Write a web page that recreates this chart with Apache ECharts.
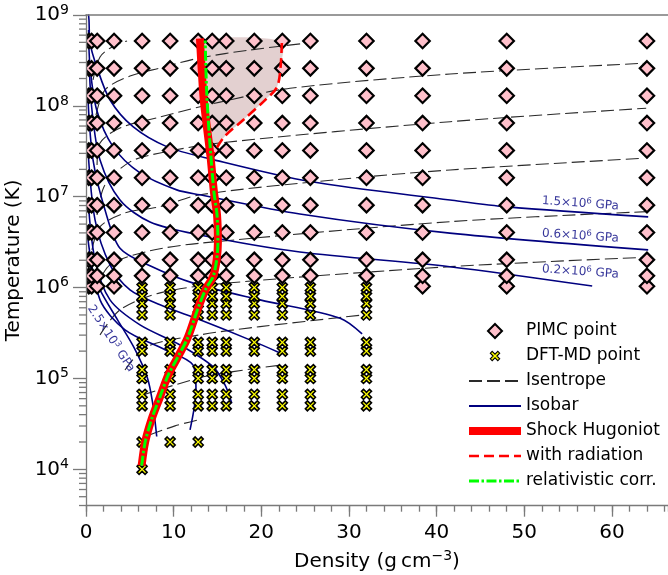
<!DOCTYPE html>
<html><head><meta charset="utf-8">
<script src="https://cdn.jsdelivr.net/npm/echarts@6/dist/echarts.min.js"></script>
<style>html,body{margin:0;padding:0;background:#fff;}#c{width:668px;height:575px;}</style>
</head><body><div id="c"></div>
<script>
const FONT = 'DejaVu Sans';

// ---- data ----
const xTicks = [0, 10, 20, 30, 40, 50, 60];
const yMajorTicks = [1e4, 1e5, 1e6, 1e7, 1e8, 1e9];
const yMinorTicks = [4e3, 5e3, 6e3, 7e3, 8e3, 9e3,
  2e4, 3e4, 4e4, 5e4, 6e4, 7e4, 8e4, 9e4,
  2e5, 3e5, 4e5, 5e5, 6e5, 7e5, 8e5, 9e5,
  2e6, 3e6, 4e6, 5e6, 6e6, 7e6, 8e6, 9e6,
  2e7, 3e7, 4e7, 5e7, 6e7, 7e7, 8e7, 9e7,
  2e8, 3e8, 4e8, 5e8, 6e8, 7e8, 8e8, 9e8];

const pimcDensities = [0.32, 0.64, 1.28, 3.2, 6.4, 9.6, 12.8, 14.4, 16.0, 19.2, 22.4, 25.6, 32.0, 38.4, 48.0, 64.0];
const pimcTemps = [1.0347e6, 1.347e6, 2.0206e6, 4.0412e6, 8.0823e6, 1.6165e7, 3.2329e7, 6.4659e7, 1.2932e8, 2.5863e8, 5.1727e8];
const pimcLowestRowDensities = [0.32, 0.64, 1.28, 3.2, 38.4, 48.0, 64.0];

const dftDensities = [6.4, 9.6, 12.8, 14.4, 16.0, 19.2, 22.4, 25.6, 32.0];
const dftTemps = [1e4, 2e4, 5e4, 6.7e4, 1e5, 1.25e5, 2e5, 2.5e5, 5e5, 6.67e5, 8e5, 1e6];
const dftColumnsPerTemp = [1, 3, 9, 9, 9, 9, 9, 9, 9, 9, 9, 9];

const hugoniotRho = [6.35, 6.75, 7.5, 8.45, 9.4, 10.5, 11.6, 12.8, 13.7, 14.5, 14.9, 15.05, 14.95, 14.6, 14.2, 13.45, 13.2, 13.0];
const hugoniotT   = [1.1e4, 2.0e4, 3.6e4, 6.3e4, 1.1e5, 1.74e5, 2.8e5, 6.0e5, 9.8e5, 1.32e6, 2.0e6, 3.16e6, 6.3e6, 1.12e7, 2.8e7, 1.12e8, 2.5e8, 5.5e8];

const radiationRho = [14.1, 15.7, 18.0, 20.4, 21.8, 22.2, 22.35];
const radiationT   = [2.5e7, 4.47e7, 7.08e7, 1.15e8, 1.62e8, 2.69e8, 5.13e8];

const relativisticRho = [6.35, 6.75, 7.5, 8.45, 9.4, 10.5, 11.6, 12.8, 13.7, 14.5, 14.9, 15.05, 14.95, 14.6, 14.25, 13.95, 13.75, 13.65, 13.6];
const relativisticT   = [1.1e4, 2.0e4, 3.6e4, 6.3e4, 1.1e5, 1.74e5, 2.8e5, 6.0e5, 9.8e5, 1.32e6, 2.0e6, 3.16e6, 6.3e6, 1.12e7, 2.8e7, 7.0e7, 1.6e8, 3.2e8, 5.25e8];

const isentrope0 = [[0.8, 1.93e8], [1.6, 3.45e8], [2.97, 4.45e8], [4.68, 5.18e8]];
const isentrope1 = [[1.14, 7.9e7], [2.17, 1.5e8], [5.02, 2.13e8], [8.45, 2.61e8], [13.0, 3.37e8], [18.7, 4.12e8], [25.56, 4.95e8]];
const isentrope2 = [[1.26, 2.24e7], [1.6, 3.9e7], [3.88, 5.71e7], [8.45, 7.55e7], [15.29, 1.1e8], [23.28, 1.56e8], [41.54, 2.24e8], [63.57, 2.94e8]];
const isentrope3 = [[1.26, 6.3e6], [2.17, 1.35e7], [5.02, 2.42e7], [8.45, 3.03e7], [15.29, 3.91e7], [41.54, 6.7e7], [63.91, 9.42e7]];
const isentrope4 = [[0.68, 2.6e6], [1.6, 4.69e6], [4.45, 6.64e6], [8.45, 7.78e6], [13.0, 1.05e7], [28.19, 1.53e7], [41.54, 1.97e7], [63.57, 2.65e7]];
const isentrope5 = [[1.03, 9.44e5], [2.74, 1.78e6], [7.3, 2.54e6], [13.0, 3.08e6], [41.54, 5.32e6], [63.99, 6.85e6]];
const isentrope6 = [[1.6, 3.02e5], [3.88, 5.69e5], [8.45, 8.75e5], [16.06, 1.12e6], [41.54, 1.7e6], [63.99, 2.16e6]];
const isentrope7 = [[4.45, 1.24e5], [6.93, 2.24e5], [13.0, 3.02e5], [19.86, 3.72e5], [31.65, 5.01e5]];
const isentrope8 = [[6.5, 6.6e4], [13.0, 1.02e5], [16.78, 1.19e5], [22.37, 1.41e5]];
const isentrope9 = [[7.3, 2.4e4], [10.16, 3.01e4], [12.82, 3.51e4]];
const isentropes = [isentrope0, isentrope1, isentrope2, isentrope3, isentrope4, isentrope5, isentrope6, isentrope7, isentrope8, isentrope9];

const isobar1 = [[0.2, 1.26e9], [0.34, 8.8e8], [0.46, 4.92e8], [1.22, 2.7e8], [2.74, 1.16e8], [5.36, 5.9e7], [9.21, 3.56e7], [14.15, 2.61e7], [25.56, 1.47e7], [41.54, 9.2e6], [48.05, 7.73e6], [64.14, 6.0e6]];
const isobar2 = [[0.29, 6.84e8], [0.46, 2.7e8], [1.22, 9.0e7], [3.08, 3.56e7], [6.16, 1.83e7], [10.35, 1.19e7], [13.0, 1.05e7], [24.4, 6.46e6], [41.5, 3.98e6], [64.14, 2.6e6]];
const isobar3 = [[0.34, 3.2e8], [0.68, 9.0e7], [1.6, 2.54e7], [3.88, 9.2e6], [7.3, 5.28e6], [13.0, 3.8e6], [24.4, 2.47e6], [41.5, 1.7e6], [57.75, 1.04e6]];
const isobar4 = [[0.23, 1.16e8], [0.8, 2.54e7], [2.17, 7.16e6], [3.88, 2.71e6], [7.3, 1.74e6], [12.25, 1.12e6], [19.86, 7.33e5], [28.99, 4.6e5], [31.5, 3.09e5]];
const isobar5 = [[0.23, 3.27e7], [1.03, 5.56e6], [2.74, 1.78e6], [5.02, 9.44e5], [8.45, 6.46e5], [13.0, 4.42e5], [18.7, 2.66e5], [22.14, 1.91e5]];
const isobar6 = [[0.23, 9.2e6], [1.03, 2.02e6], [2.74, 7.33e5], [6.16, 3.89e5], [10.73, 2.34e5], [14.49, 1.35e5], [15.86, 8.5e4], [16.63, 5.35e4]];
const isobar7 = [[0.23, 3.35e6], [1.6, 7.33e5], [4.45, 3.43e5], [9.02, 2.07e5], [12.2, 1.41e5], [12.55, 7.5e4], [11.87, 2.72e4]];
const isobar8 = [[0.23, 2.02e6], [1.6, 9.44e5], [3.6, 4.42e5], [5.5, 2.17e5], [7.0, 1.02e5], [7.6, 5.4e4], [8.07, 2.3e4]];
const isobars = [isobar1, isobar2, isobar3, isobar4, isobar5, isobar6, isobar7, isobar8];

const isobarLabelText = [['1.5×10', '6', ' GPa'], ['0.6×10', '6', ' GPa'], ['0.2×10', '6', ' GPa'], ['2.5×10', '3', ' GPa']];
const isobarLabelAnchor = [[56.4, 8.4e6], [56.4, 3.7e6], [56.4, 1.49e6], [2.85, 2.75e5]];

// ---- build ----
const pimcData = [];
pimcTemps.forEach((t, i) => (i === 0 ? pimcLowestRowDensities : pimcDensities).forEach(r => pimcData.push([r, t])));
const dftData = [];
dftTemps.forEach((t, i) => dftDensities.slice(0, dftColumnsPerTemp[i]).forEach(r => dftData.push([r, t])));
const zip = (a, b) => a.map((v, i) => [v, b[i]]);

const YMIN = Math.pow(10, 3.6), YMAX = 1e9, XMAX = 66.4;
const axisGray = '#7a7a7a';
const NAVY = '#00007f';
const DIAMOND = 'path://M5,0 L10,5 L5,10 L0,5 Z';
const XMARK = 'path://M2,0 L5,3 L8,0 L10,2 L7,5 L10,8 L8,10 L5,7 L2,10 L0,8 L3,5 L0,2 Z';
const XMARK_LEGEND = 'path://M-2.5,-2.5 L-2.5,-2.5 M12.5,12.5 L12.5,12.5 M2,0 L5,3 L8,0 L10,2 L7,5 L10,8 L8,10 L5,7 L2,10 L0,8 L3,5 L0,2 Z';

const series = [];
series.push({
  type: 'custom', coordinateSystem: 'cartesian2d', z: 1, silent: true, clip: true,
  data: [[14, 1e8]],
  renderItem: (params, api) => {
    const pts = [];
    radiationRho.forEach((r, i) => pts.push(api.coord([r, radiationT[i]])));
    const top = radiationT[radiationT.length - 1];
    const hug = [];
    for (let i = 0; i < hugoniotRho.length; i++) if (hugoniotT[i] >= radiationT[0]) hug.push([hugoniotRho[i], Math.min(hugoniotT[i], top * 1.01)]);
    hug.reverse().forEach(p => pts.push(api.coord(p)));
    return { type: 'polygon', shape: { points: pts, smooth: 0.25 }, style: { fill: 'rgba(188,143,143,0.42)' } };
  }
});
isentropes.forEach(d => series.push({
  type: 'line', name: 'Isentrope', data: d, symbol: 'none', smooth: 0.3, z: 2, silent: true,
  lineStyle: { color: '#2a2a2a', width: 1.1, type: [13, 5] }, itemStyle: { color: '#2a2a2a' }
}));
isobars.forEach(d => series.push({
  type: 'line', name: 'Isobar', data: d, symbol: 'none', smooth: 0.3, z: 2, silent: true,
  lineStyle: { color: NAVY, width: 1.6 }, itemStyle: { color: NAVY }
}));
series.push({
  type: 'custom', name: 'PIMC point', coordinateSystem: 'cartesian2d', data: pimcData, z: 3, clip: true,
  encode: { x: 0, y: 1 },
  itemStyle: { color: '#ffc0cb', borderColor: '#000', borderWidth: 2.2 },
  renderItem: (params, api) => {
    const p = api.coord([api.value(0), api.value(1)]);
    const s = 7.2;
    return { type: 'polygon',
      shape: { points: [[p[0], p[1] - s], [p[0] + s, p[1]], [p[0], p[1] + s], [p[0] - s, p[1]]] },
      style: { fill: '#ffc0cb', stroke: '#000', lineWidth: 2.2 } };
  }
});
series.push({
  type: 'scatter', name: 'DFT-MD point', data: dftData, symbol: XMARK, symbolSize: 10, z: 4,
  itemStyle: { color: '#ffff00', borderColor: '#000', borderWidth: 1.6, opacity: 1 }
});
series.push({
  type: 'line', name: 'Shock Hugoniot', data: zip(hugoniotRho, hugoniotT), symbol: 'none', smooth: 0.3, z: 5,
  lineStyle: { color: '#ff0000', width: 8 }, itemStyle: { color: '#ff0000' }
});
series.push({
  type: 'line', name: 'with radiation', data: zip(radiationRho, radiationT), symbol: 'none', smooth: 0.3, z: 6,
  lineStyle: { color: '#ff0000', width: 2.6, type: [10, 5] }, itemStyle: { color: '#ff0000' }
});
series.push({
  type: 'line', name: 'relativistic corr.', data: zip(relativisticRho, relativisticT), symbol: 'none', smooth: 0.3, z: 7,
  lineStyle: { color: '#00ff00', width: 3, type: [10, 2.5, 2.5, 2.5] }, itemStyle: { color: '#00ff00' }
});
series.push({
  type: 'scatter', z: 8, silent: true, symbolSize: 0,
  data: isobarLabelAnchor.map((a, i) => ({ value: a, name: 'lab' + i, label: { rotate: i === 3 ? -57 : -4 } })),
  label: {
    show: true, position: 'inside',
    formatter: p => { const t = isobarLabelText[p.dataIndex]; return '{a|' + t[0] + '}{s|' + t[1] + '}{a|' + t[2] + '}'; },
    rich: {
      a: { fontFamily: FONT, fontSize: 12, color: NAVY, lineHeight: 15 },
      s: { fontFamily: FONT, fontSize: 8.5, color: NAVY, lineHeight: 9, verticalAlign: 'top' }
    }
  }
});

const lineLegend = (name, w) => ({ name: name, itemStyle: { opacity: 0, color: 'rgba(0,0,0,0)', borderWidth: 0 }, lineStyle: w ? { width: w } : {} });

const chart = echarts.init(document.getElementById('c'), null, { renderer: 'canvas' });
chart.setOption({
  animation: false,
  backgroundColor: '#fff',
  grid: { left: 86, top: 15, right: 0, bottom: 69.3, containLabel: false, outerBoundsMode: 'none' },
  xAxis: [
    {
      type: 'value', min: 0, max: XMAX, interval: 10, position: 'bottom', z: 10,
      axisLine: { show: true, onZero: false, lineStyle: { color: axisGray, width: 1.3 } },
      axisTick: { show: true, length: 11, customValues: xTicks, lineStyle: { color: axisGray, width: 1.3 } },
      axisLabel: { fontFamily: FONT, fontSize: 20, color: '#000', margin: 17, customValues: xTicks },
      splitLine: { show: false },
      name: '{n|Density (g\u2009cm}{s|\u22123}{n|)}', nameLocation: 'middle', nameGap: 44,
      nameTextStyle: { rich: {
        n: { fontFamily: FONT, fontSize: 20, color: '#000', lineHeight: 24 },
        s: { fontFamily: FONT, fontSize: 14, color: '#000', lineHeight: 14, verticalAlign: 'top' } } }
    },
    {
      type: 'value', min: 0, max: XMAX, interval: 2, position: 'bottom', z: 10,
      axisLine: { show: false }, axisLabel: { show: false }, splitLine: { show: false },
      axisTick: { show: true, length: 6, lineStyle: { color: axisGray, width: 1.3 } }
    },
    {
      type: 'value', min: 0, max: XMAX, position: 'top', z: 10,
      axisLine: { show: true, onZero: false, lineStyle: { color: axisGray, width: 1.6 } },
      axisTick: { show: false }, axisLabel: { show: false }, splitLine: { show: false }
    }
  ],
  yAxis: {
    type: 'log', logBase: 10, min: YMIN, max: YMAX, z: 10, position: 'left',
    axisLine: { show: true, onZero: false, lineStyle: { color: axisGray, width: 1.3 } },
    axisTick: { show: true, length: 13, customValues: yMajorTicks, lineStyle: { color: axisGray, width: 1.3 } },
    axisLabel: {
      margin: 17, customValues: yMajorTicks,
      formatter: v => '{b|10}{s|' + Math.round(Math.log10(v)) + '}',
      rich: {
        b: { fontFamily: FONT, fontSize: 20, color: '#000', lineHeight: 24 },
        s: { fontFamily: FONT, fontSize: 14, color: '#000', lineHeight: 14, verticalAlign: 'top' }
      }
    },
    splitLine: { show: false },
    name: 'Temperature (K)', nameLocation: 'middle', nameGap: 57,
    nameTextStyle: { fontFamily: FONT, fontSize: 20, color: '#000' }
  },
  legend: {
    orient: 'vertical', left: 460, top: 317, padding: 5, itemWidth: 52, itemHeight: 14, itemGap: 7,
    selectedMode: false,
    textStyle: { fontFamily: FONT, fontSize: 17, color: '#000', lineHeight: 18 },
    data: [
      { name: 'PIMC point', icon: DIAMOND },
      { name: 'DFT-MD point', icon: XMARK_LEGEND, itemStyle: { borderWidth: 1.1 } },
      lineLegend('Isentrope'),
      lineLegend('Isobar'),
      lineLegend('Shock Hugoniot', 8),
      lineLegend('with radiation', 2.6),
      lineLegend('relativistic corr.', 3)
    ]
  },
  series: series
});

// minor ticks of the log axis, placed through the axis scale
const x0 = chart.convertToPixel({ xAxisIndex: 0 }, 0);
chart.setOption({
  graphic: {
    elements: yMinorTicks.map(v => {
      const y = chart.convertToPixel({ yAxisIndex: 0 }, v);
      return { type: 'line', silent: true, z: 100,
        shape: { x1: x0 - 7, y1: y, x2: x0, y2: y },
        style: { stroke: axisGray, lineWidth: 1.3 } };
    })
  }
});
</script></body></html>
